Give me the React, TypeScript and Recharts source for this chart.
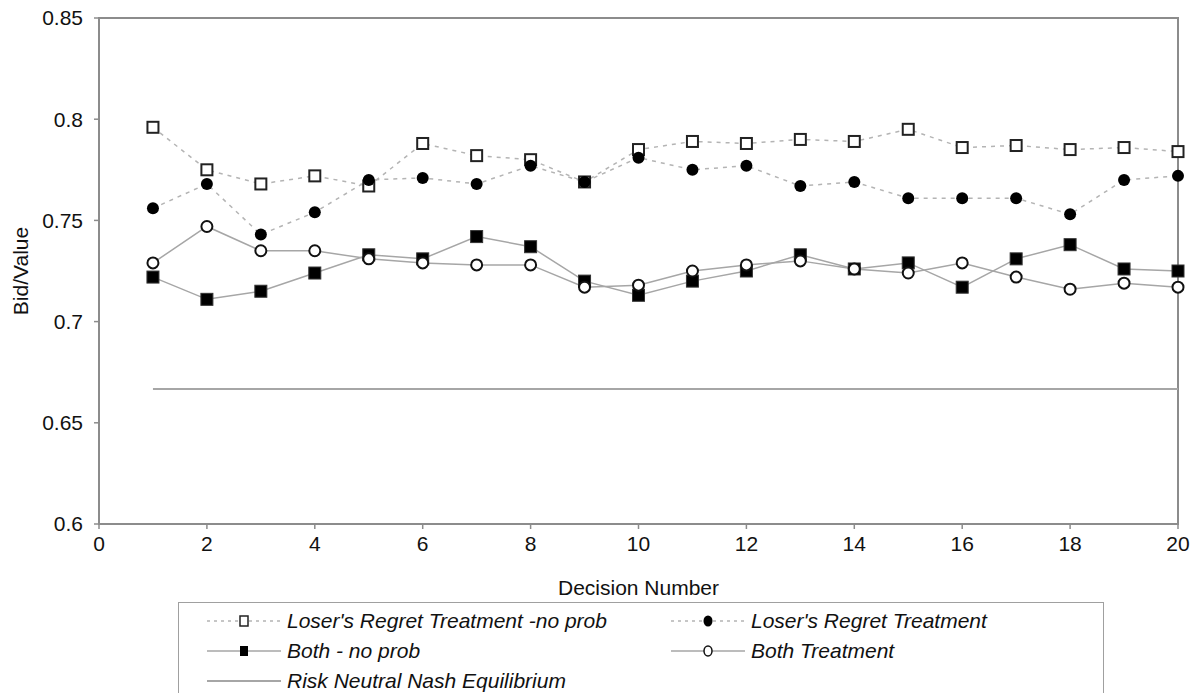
import { LineChart, Line, XAxis, YAxis, ReferenceLine, ReferenceArea } from 'recharts';

const decisions = [1, 2, 3, 4, 5, 6, 7, 8, 9, 10, 11, 12, 13, 14, 15, 16, 17, 18, 19, 20];
const loserNoProb = [0.796, 0.775, 0.768, 0.772, 0.767, 0.788, 0.782, 0.78, 0.769, 0.785, 0.789, 0.788, 0.79, 0.789, 0.795, 0.786, 0.787, 0.785, 0.786, 0.784];
const loser = [0.756, 0.768, 0.743, 0.754, 0.77, 0.771, 0.768, 0.777, 0.769, 0.781, 0.775, 0.777, 0.767, 0.769, 0.761, 0.761, 0.761, 0.753, 0.77, 0.772];
const bothNoProb = [0.722, 0.711, 0.715, 0.724, 0.733, 0.731, 0.742, 0.737, 0.72, 0.713, 0.72, 0.725, 0.733, 0.726, 0.729, 0.717, 0.731, 0.738, 0.726, 0.725];
const both = [0.729, 0.747, 0.735, 0.735, 0.731, 0.729, 0.728, 0.728, 0.717, 0.718, 0.725, 0.728, 0.73, 0.726, 0.724, 0.729, 0.722, 0.716, 0.719, 0.717];
const nashValue = 0.6667;

const xTicks = [0, 2, 4, 6, 8, 10, 12, 14, 16, 18, 20];
const yTicks = [0.6, 0.65, 0.7, 0.75, 0.8, 0.85];

const data = decisions.map((d, i) => ({
  decision: d,
  loserNoProb: loserNoProb[i],
  loser: loser[i],
  bothNoProb: bothNoProb[i],
  both: both[i],
}));

const FONT = '"Liberation Sans", Arial, sans-serif';
const AXIS = '#8c8c8c';
const DASHED = '#b4b4b4';
const SOLID = '#a6a6a6';

const OpenSquare = (props: any) => {
  const { cx, cy, index } = props;
  if (cx == null || cy == null) return null;
  return <rect key={`os-${index}`} x={cx - 5.5} y={cy - 5.5} width={11} height={11} fill="#fff" stroke="#222" strokeWidth={2} />;
};
const FilledSquare = (props: any) => {
  const { cx, cy, index } = props;
  if (cx == null || cy == null) return null;
  return <rect key={`fs-${index}`} x={cx - 6} y={cy - 6} width={12} height={12} fill="#000" stroke="#333" strokeWidth={1} />;
};
const FilledCircle = (props: any) => {
  const { cx, cy, index } = props;
  if (cx == null || cy == null) return null;
  return <circle key={`fc-${index}`} cx={cx} cy={cy} r={6} fill="#000" />;
};
const OpenCircle = (props: any) => {
  const { cx, cy, index } = props;
  if (cx == null || cy == null) return null;
  return <circle key={`oc-${index}`} cx={cx} cy={cy} r={5.5} fill="#fff" stroke="#111" strokeWidth={2} />;
};

const legendItems = [
  { label: "Loser's Regret Treatment -no prob", marker: 'os', dashed: true, left: 28, row: 0 },
  { label: "Loser's Regret Treatment", marker: 'fc', dashed: true, left: 492, row: 0 },
  { label: 'Both - no prob', marker: 'fs', dashed: false, left: 28, row: 1 },
  { label: 'Both Treatment', marker: 'oc', dashed: false, left: 492, row: 1 },
  { label: 'Risk Neutral Nash Equilibrium', marker: 'none', dashed: false, left: 28, row: 2 },
];

const LegendSample = ({ marker, dashed }: { marker: string; dashed: boolean }) => (
  <svg width={74} height={20} style={{ display: 'block' }}>
    <line
      x1={0}
      x2={74}
      y1={10}
      y2={10}
      stroke={dashed ? DASHED : SOLID}
      strokeWidth={marker === 'none' ? 2 : 1.5}
      strokeDasharray={dashed ? '3 4' : undefined}
    />
    {marker === 'os' && <rect x={33} y={5} width={8} height={10} fill="#fff" stroke="#222" strokeWidth={1.5} />}
    {marker === 'fs' && <rect x={33} y={5} width={8} height={10} fill="#000" />}
    {marker === 'fc' && <ellipse cx={37} cy={10} rx={4.5} ry={5.5} fill="#000" />}
    {marker === 'oc' && <ellipse cx={37} cy={10} rx={4} ry={5} fill="#fff" stroke="#111" strokeWidth={1.5} />}
  </svg>
);

const App = () => {
  return (
    <div style={{ position: 'absolute', left: 0, top: 0, width: 1197, height: 693, background: '#fff', overflow: 'hidden', fontFamily: FONT }}>
      <LineChart width={1197} height={693} data={data} margin={{ top: 18, right: 19, left: 0, bottom: 89 }}>
        <ReferenceArea x1={0} x2={20} y1={0.6} y2={0.85} fill="none" stroke={AXIS} strokeWidth={2} ifOverflow="extendDomain" />
        <XAxis
          dataKey="decision"
          type="number"
          domain={[0, 20]}
          ticks={xTicks}
          height={80}
          tickSize={5}
          tickMargin={7}
          axisLine={{ stroke: AXIS, strokeWidth: 2 }}
          tickLine={{ stroke: AXIS, strokeWidth: 1.5 }}
          tick={{ fill: '#111', fontSize: 21, fontFamily: FONT }}
          label={{
            content: ({ viewBox }: any) => (
              <text x={viewBox.x + viewBox.width / 2} y={viewBox.y + 63} textAnchor="middle" dominantBaseline="central" fontSize={21} fontFamily={FONT} fill="#111">
                Decision Number
              </text>
            ),
          }}
        />
        <YAxis
          type="number"
          domain={[0.6, 0.85]}
          ticks={yTicks}
          width={99}
          tickSize={5}
          tickMargin={11}
          axisLine={{ stroke: AXIS, strokeWidth: 2 }}
          tickLine={{ stroke: AXIS, strokeWidth: 1.5 }}
          tick={{ fill: '#111', fontSize: 21, fontFamily: FONT }}
          tickFormatter={(v: number) => String(v)}
          label={{
            content: ({ viewBox }: any) => {
              const cx = 20;
              const cy = viewBox.y + viewBox.height / 2;
              return (
                <text x={cx} y={cy} transform={`rotate(-90 ${cx} ${cy})`} textAnchor="middle" dominantBaseline="central" fontSize={21} fontFamily={FONT} fill="#111">
                  Bid/Value
                </text>
              );
            },
          }}
        />
        <ReferenceLine
          segment={[
            { x: decisions[0], y: nashValue },
            { x: decisions[decisions.length - 1], y: nashValue },
          ]}
          stroke={SOLID}
          strokeWidth={2}
        />
        <Line dataKey="loserNoProb" stroke={DASHED} strokeWidth={1.5} strokeDasharray="4 5" dot={OpenSquare} activeDot={false} isAnimationActive={false} />
        <Line dataKey="loser" stroke={DASHED} strokeWidth={1.5} strokeDasharray="4 5" dot={FilledCircle} activeDot={false} isAnimationActive={false} />
        <Line dataKey="bothNoProb" stroke={SOLID} strokeWidth={1.5} dot={FilledSquare} activeDot={false} isAnimationActive={false} />
        <Line dataKey="both" stroke={SOLID} strokeWidth={1.5} dot={OpenCircle} activeDot={false} isAnimationActive={false} />
      </LineChart>
      <div style={{ position: 'absolute', left: 178, top: 602, width: 926, height: 110, border: '1px solid #a0a0a0', boxSizing: 'border-box' }}>
        {legendItems.map((item) => (
          <div
            key={item.label}
            style={{ position: 'absolute', left: item.left, top: 3 + item.row * 30, height: 30, display: 'flex', alignItems: 'center', whiteSpace: 'nowrap' }}
          >
            <LegendSample marker={item.marker} dashed={item.dashed} />
            <span style={{ marginLeft: 6, fontStyle: 'italic', fontSize: 21, color: '#111' }}>{item.label}</span>
          </div>
        ))}
      </div>
    </div>
  );
};

export default App;
